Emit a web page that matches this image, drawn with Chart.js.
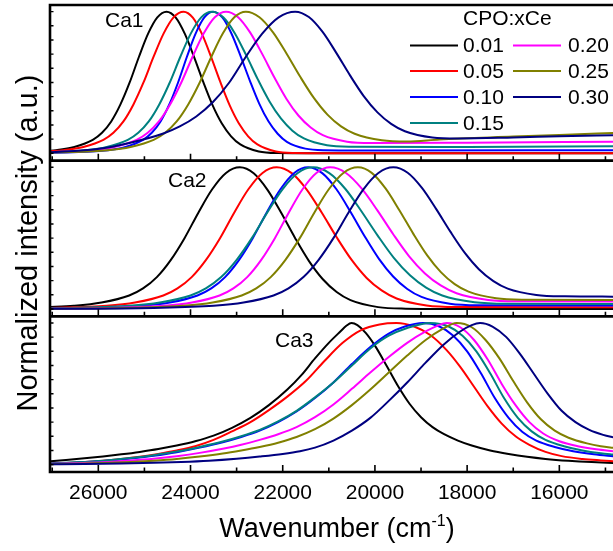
<!DOCTYPE html>
<html><head><meta charset="utf-8">
<script src="https://cdn.jsdelivr.net/npm/chart.js@4.4.0/dist/chart.umd.min.js"></script>
<style>html,body{margin:0;padding:0;background:#fff;overflow:hidden}#wrap{position:relative;width:613px;height:551px}</style>
</head><body><div id="wrap"><canvas id="c" width="613" height="551"></canvas></div>
<script>
// ---- labels / ticks ----
const seriesLabels = ['0.01','0.05','0.10','0.15','0.20','0.25','0.30'];
const seriesColors = ['#000000','#ff0000','#0000ff','#008080','#ff00ff','#808000','#000080'];
const panelLabels = ['Ca1','Ca2','Ca3'];
const legendTitle = 'CPO:xCe';
const xTitle = 'Wavenumber (cm';
const xTitleSup = '-1';
const yTitle = 'Normalized intensity (a.u.)';
const xTicks = [26000,24000,22000,20000,18000,16000];
const xMinorTicks = [27000,25000,23000,21000,19000,17000,15000];
const yTicks = [0,0.1,0.2,0.3,0.4,0.5,0.6,0.7,0.8,0.9,1.0];
const X_MAX = 27048, X_MIN = 14836;
const Y_MIN = -0.052, Y_MAX = 1.047;

// ---- Ca1 series: [wavenumber (cm-1), normalized intensity] ----
const ca1_001 = [[27100,.017],[26920,.022],[26520,.045],[26120,.095],[25920,.145],[25720,.225],[25520,.345],[25320,.5],[25120,.68],[24920,.845],[24720,.96],[24520,1],[24320,.958],[24120,.841],[23920,.677],[23720,.5],[23520,.338],[23320,.21],[23120,.12],[22920,.0625],[22520,.013],[22120,.002],[21000,0],[14800,0]];
const ca1_005 = [[27100,.013],[26760,.022],[26325,.045],[25890,.095],[25673,.145],[25455,.225],[25238,.345],[25020,.5],[24803,.68],[24585,.845],[24368,.96],[24150,1],[23950,.958],[23750,.841],[23550,.677],[23350,.5],[23150,.338],[22950,.21],[22750,.12],[22550,.0625],[22150,.013],[21750,.002],[21000,0],[14800,0]];
const ca1_010 = [[27100,.004],[26550,.007],[25790,.022],[25410,.045],[25030,.095],[24840,.145],[24650,.225],[24460,.345],[24270,.5],[24080,.68],[23890,.845],[23700,.96],[23510,1],[23310,.959],[23110,.844],[22910,.683],[22710,.51],[22510,.351],[22310,.226],[22110,.138],[21910,.081],[21510,.033],[21110,.022],[20000,.02],[14800,.022]];
const ca1_015 = [[27100,.008],[26270,.022],[25815,.045],[25360,.095],[25133,.145],[24905,.225],[24678,.345],[24450,.5],[24223,.68],[23995,.845],[23768,.96],[23540,1],[23290,.96],[23040,.848],[22790,.691],[22540,.522],[22290,.368],[22040,.246],[21790,.16],[21540,.105],[21040,.057],[20540,.047],[18000,.045],[14800,.05]];
const ca1_020 = [[27100,.006],[26140,.022],[25655,.045],[25170,.095],[24928,.145],[24685,.225],[24443,.345],[24200,.5],[23958,.68],[23715,.845],[23473,.96],[23230,1],[22968,.961],[22705,.852],[22443,.7],[22180,.535],[21918,.384],[21655,.265],[21393,.182],[21130,.128],[20605,.082],[20080,.072],[18000,.075],[14800,.082]];
const ca1_025 = [[27100,.005],[26800,.007],[25800,.022],[25300,.045],[24800,.095],[24550,.145],[24300,.225],[24050,.345],[23800,.5],[23550,.68],[23300,.845],[23050,.96],[22800,1],[22505,.961],[22210,.854],[21915,.703],[21620,.54],[21325,.391],[21030,.273],[20735,.19],[20440,.138],[19850,.092],[19300,.083],[18600,.098],[17000,.118],[16000,.13],[14800,.144]];
const ca1_030 = [[27100,.006],[26020,.03],[25305,.075],[24590,.14],[24233,.19],[23875,.26],[23518,.36],[23160,.5],[22803,.68],[22445,.845],[22088,.96],[21730,1],[21433,.962],[21135,.857],[20838,.709],[20540,.55],[20243,.404],[19945,.289],[19648,.208],[19350,.156],[18755,.112],[18200,.105],[17000,.112],[16000,.12],[14800,.128]];

// ---- Ca2 series ----
const ca2_001 = [[27130,.012],[26530,.022],[25930,.045],[25330,.095],[25030,.145],[24730,.225],[24430,.345],[24130,.5],[23830,.68],[23530,.845],[23230,.96],[22930,1],[22630,.958],[22330,.841],[22030,.677],[21730,.5],[21430,.338],[21130,.21],[20830,.12],[20530,.0625],[19930,.013],[19330,.002],[18500,0],[14800,0]];
const ca2_005 = [[27130,.006],[25820,.022],[25205,.045],[24590,.095],[24283,.145],[23975,.225],[23668,.345],[23360,.5],[23053,.68],[22745,.845],[22438,.96],[22130,1],[21805,.959],[21480,.843],[21155,.681],[20830,.506],[20505,.346],[20180,.219],[19855,.131],[19530,.074],[18880,.025],[18230,.014],[14800,.012]];
const ca2_010 = [[27130,.003],[26250,.007],[25050,.022],[24450,.045],[23850,.095],[23550,.145],[23250,.225],[22950,.345],[22650,.5],[22350,.68],[22050,.845],[21750,.96],[21450,1],[21143,.959],[20835,.845],[20528,.685],[20220,.512],[19913,.354],[19605,.229],[19298,.141],[18990,.085],[18375,.037],[17760,.026],[14800,.024]];
const ca2_015 = [[27130,.004],[26660,.007],[25330,.022],[24665,.045],[24000,.095],[23668,.145],[23335,.225],[23003,.345],[22670,.5],[22338,.68],[22005,.845],[21673,.96],[21340,1],[20990,.959],[20640,.847],[20290,.688],[19940,.518],[19590,.361],[19240,.238],[18890,.151],[18540,.095],[17840,.048],[17140,.037],[14800,.035]];
const ca2_020 = [[27130,.002],[25770,.007],[24570,.022],[23970,.045],[23370,.095],[23070,.145],[22770,.225],[22470,.345],[22170,.5],[21870,.68],[21570,.845],[21270,.96],[20970,1],[20628,.96],[20285,.849],[19943,.694],[19600,.526],[19258,.372],[18915,.251],[18573,.166],[18230,.111],[17545,.064],[16860,.054],[14800,.052]];
const ca2_025 = [[27130,.001],[25410,.007],[24150,.022],[23520,.045],[22890,.095],[22575,.145],[22260,.225],[21945,.345],[21630,.5],[21315,.68],[21000,.845],[20685,.96],[20370,1],[20070,.961],[19770,.851],[19470,.697],[19170,.532],[18870,.38],[18570,.26],[18270,.175],[17970,.122],[17370,.075],[16770,.065],[14800,.063]];
const ca2_030 = [[27130,.001],[24800,.007],[23500,.022],[22850,.045],[22200,.095],[21875,.145],[21550,.225],[21225,.345],[20900,.5],[20575,.68],[20250,.845],[19925,.96],[19600,1],[19290,.962],[18980,.855],[18670,.705],[18360,.544],[18050,.396],[17740,.279],[17430,.197],[17120,.144],[16500,.099],[15880,.089],[14800,.087]];

// ---- Ca3 series ----
const ca3_001 = [[27100,.023],[26700,.033],[26300,.045],[25900,.058],[25500,.073],[25100,.09],[24700,.11],[24300,.135],[23900,.165],[23500,.205],[23100,.26],[22700,.33],[22300,.42],[21900,.53],[21600,.63],[21300,.75],[21000,.86],[20750,.94],[20620,.98],[20508,1],[20380,.985],[20200,.93],[20000,.84],[19750,.7],[19500,.555],[19250,.43],[19000,.335],[18750,.265],[18500,.215],[18200,.17],[17900,.135],[17500,.1],[17100,.075],[16700,.055],[16300,.04],[15800,.027],[15300,.018],[14800,.012]];
const ca3_005 = [[27100,.008],[26700,.012],[26300,.018],[25900,.027],[25500,.04],[25100,.056],[24700,.076],[24300,.1],[23900,.13],[23500,.175],[23100,.235],[22700,.3],[22300,.385],[21900,.48],[21500,.59],[21100,.73],[20700,.86],[20300,.95],[19900,.99],[19530,1],[19150,.975],[18800,.915],[18450,.81],[18150,.69],[17850,.55],[17550,.41],[17250,.29],[16950,.2],[16650,.14],[16300,.09],[15950,.06],[15500,.04],[15100,.03],[14800,.024]];
const ca3_010 = [[27100,.006],[26500,.014],[25900,.025],[25300,.043],[24800,.063],[24300,.088],[23800,.12],[23300,.158],[22900,.195],[22500,.24],[22100,.3],[21700,.375],[21300,.47],[20900,.58],[20500,.71],[20100,.83],[19700,.925],[19350,.975],[18957,1],[18600,.975],[18300,.91],[18000,.8],[17700,.645],[17400,.47],[17100,.33],[16800,.23],[16500,.17],[16100,.125],[15700,.095],[15250,.073],[14800,.059]];
const ca3_015 = [[27100,.007],[26500,.016],[25900,.028],[25300,.047],[24800,.067],[24300,.092],[23800,.125],[23300,.163],[22900,.2],[22500,.245],[22100,.305],[21700,.38],[21300,.475],[20900,.58],[20500,.7],[20100,.82],[19700,.91],[19300,.965],[18800,1],[18400,.975],[18100,.91],[17800,.8],[17500,.645],[17200,.47],[16900,.33],[16600,.235],[16300,.175],[15900,.13],[15500,.1],[15100,.08],[14800,.07]];
const ca3_020 = [[27100,.004],[26500,.01],[25900,.017],[25300,.029],[24800,.042],[24300,.06],[23800,.083],[23300,.112],[22900,.14],[22500,.175],[22100,.215],[21700,.265],[21300,.335],[20900,.425],[20500,.535],[20100,.65],[19700,.76],[19300,.86],[18900,.94],[18650,.98],[18443,1],[18150,.97],[17850,.88],[17550,.74],[17250,.57],[16950,.42],[16650,.3],[16350,.22],[16000,.165],[15600,.13],[15200,.108],[14800,.094]];
const ca3_025 = [[27100,.003],[26500,.006],[25900,.011],[25300,.019],[24800,.028],[24300,.04],[23800,.057],[23300,.078],[22900,.1],[22500,.125],[22100,.155],[21700,.195],[21300,.25],[20900,.325],[20500,.42],[20100,.53],[19700,.65],[19300,.77],[18900,.88],[18550,.955],[18226,1],[17900,.97],[17600,.88],[17300,.75],[17000,.59],[16700,.44],[16400,.32],[16100,.24],[15800,.19],[15400,.15],[15100,.13],[14800,.118]];
const ca3_030 = [[27100,.002],[26300,.004],[25500,.008],[24800,.013],[24200,.019],[23600,.028],[23000,.042],[22500,.057],[22000,.075],[21625,.094],[21300,.12],[20900,.17],[20500,.24],[20100,.33],[19700,.45],[19300,.58],[18900,.72],[18500,.85],[18150,.94],[17900,.985],[17720,1],[17450,.975],[17150,.9],[16850,.78],[16550,.64],[16250,.5],[15950,.38],[15650,.3],[15350,.245],[15050,.21],[14800,.19]];

const panels = [
  [ca1_001, ca1_005, ca1_010, ca1_015, ca1_020, ca1_025, ca1_030],
  [ca2_001, ca2_005, ca2_010, ca2_015, ca2_020, ca2_025, ca2_030],
  [ca3_001, ca3_005, ca3_010, ca3_015, ca3_020, ca3_025, ca3_030]
];
const panelAxis = ['y1','y2','y3'];

const FONT = "'Liberation Sans', Arial, Helvetica, sans-serif";

const datasets = [];
panels.forEach((series, pi) => series.forEach((pts, si) => {
  datasets.push({
    label: panelLabels[pi] + ' ' + seriesLabels[si],
    data: pts.map(p => ({x: p[0], y: p[1]})),
    yAxisID: panelAxis[pi],
    borderColor: seriesColors[si],
    backgroundColor: seriesColors[si],
    borderWidth: 2,
    pointRadius: 0,
    fill: false,
    cubicInterpolationMode: 'monotone',
    order: 6 - si
  });
}));

const yAxisOpts = () => ({type:'linear', display:false, min:Y_MIN, max:Y_MAX, stack:'panels', stackWeight:1, position:'left'});

const framePlugin = {
  id: 'frame',
  afterDatasetsDraw(chart) {
    const ctx = chart.ctx, ca = chart.chartArea, xs = chart.scales.x;
    ctx.save();
    ctx.strokeStyle = '#000';
    ctx.lineCap = 'butt';
    panelAxis.forEach(id => {
      const ys = chart.scales[id];
      const b = ys.bottom;
      ctx.lineWidth = 1.6;
      ctx.beginPath();
      xTicks.forEach(v => { const px = xs.getPixelForValue(v); ctx.moveTo(px, b); ctx.lineTo(px, b - 7); });
      xMinorTicks.forEach(v => { const px = xs.getPixelForValue(v); ctx.moveTo(px, b); ctx.lineTo(px, b - 4.5); });
      ctx.stroke();
      ctx.lineWidth = 1.4;
      ctx.beginPath();
      yTicks.forEach(v => { const py = ys.getPixelForValue(v); ctx.moveTo(ca.left, py); ctx.lineTo(ca.left + 3.5, py); });
      ctx.stroke();
    });
    ctx.lineWidth = 2.6;
    ctx.beginPath();
    ctx.moveTo(ca.left, ca.top); ctx.lineTo(chart.width, ca.top);
    ctx.moveTo(ca.left, ca.top - 1.3); ctx.lineTo(ca.left, ca.bottom + 1.3);
    panelAxis.forEach(id => { const b = chart.scales[id].bottom; ctx.moveTo(ca.left, b); ctx.lineTo(chart.width, b); });
    ctx.stroke();
    ctx.fillStyle = '#000';
    ctx.font = '21px ' + FONT;
    ctx.textBaseline = 'middle';
    ctx.textAlign = 'left';
    const lblPos = [[105, 21], [168, 181], [275, 341]];
    panelLabels.forEach((t, i) => ctx.fillText(t, lblPos[i][0], lblPos[i][1]));
    ctx.fillText(legendTitle, 463, 19);
    const rows = [45.5, 71, 97, 123];
    const cols = [[410, 458, 463], [513, 561, 568]];
    seriesLabels.forEach((t, i) => {
      const c = i < 4 ? 0 : 1, r = i < 4 ? i : i - 4;
      const y = rows[r];
      ctx.strokeStyle = seriesColors[i];
      ctx.lineWidth = 2;
      ctx.beginPath(); ctx.moveTo(cols[c][0], y); ctx.lineTo(cols[c][1], y); ctx.stroke();
      ctx.fillStyle = '#000';
      ctx.fillText(t, cols[c][2], y + 1);
    });
    ctx.textBaseline = 'alphabetic';
    ctx.font = '27px ' + FONT;
    const w1 = ctx.measureText(xTitle).width;
    const w3 = ctx.measureText(')').width;
    ctx.font = '16px ' + FONT;
    const w2 = ctx.measureText(xTitleSup).width;
    const total = w1 + w2 + w3;
    const x0 = 337 - total / 2;
    const base = 537;
    ctx.font = '27px ' + FONT;
    ctx.fillText(xTitle, x0, base);
    ctx.font = '16px ' + FONT;
    ctx.fillText(xTitleSup, x0 + w1, base - 11);
    ctx.font = '27px ' + FONT;
    ctx.fillText(')', x0 + w1 + w2, base);
    ctx.save();
    ctx.translate(37, 243);
    ctx.rotate(-Math.PI / 2);
    ctx.font = '29px ' + FONT;
    ctx.textAlign = 'center';
    ctx.fillText(yTitle, 0, 0);
    ctx.restore();
    ctx.restore();
  }
};

new Chart(document.getElementById('c'), {
  type: 'line',
  data: { datasets },
  options: {
    responsive: false,
    animation: false,
    events: [],
    layout: { padding: { left: 50, top: 5, right: 0, bottom: 0 } },
    plugins: { legend: { display: false }, tooltip: { enabled: false }, title: { display: false } },
    scales: {
      x: {
        type: 'linear', reverse: true, min: X_MIN, max: X_MAX,
        afterBuildTicks: s => { s.ticks = xTicks.map(v => ({ value: v })); },
        afterFit: s => { s.height = 79; },
        grid: { display: false }, border: { display: false },
        ticks: { font: { family: FONT, size: 21 }, color: '#000', padding: 1, maxRotation: 0, autoSkip: false, callback: v => String(v) }
      },
      y3: yAxisOpts(),
      y2: yAxisOpts(),
      y1: yAxisOpts()
    }
  },
  plugins: [framePlugin]
});
</script>
</body></html>
